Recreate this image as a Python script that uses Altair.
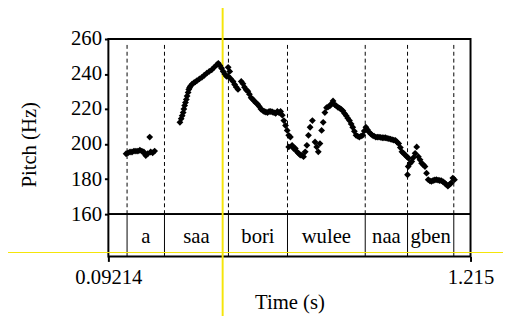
import altair as alt
import pandas as pd

# ---- data ----
times = [
    0.1471, 0.1532, 0.1593, 0.1654, 0.1715, 0.1776, 0.1837, 0.1898, 0.1959, 0.2020,
    0.2050, 0.2081, 0.2142, 0.2203, 0.2233, 0.2294, 0.2355,
    0.3140, 0.3179, 0.3210, 0.3240, 0.3262, 0.3286, 0.3311, 0.3338, 0.3362, 0.3393,
    0.3414, 0.3439, 0.3463, 0.3515, 0.3567, 0.3616, 0.3668, 0.3744, 0.3820, 0.3896,
    0.3973, 0.4049, 0.4125, 0.4201, 0.4278, 0.4330, 0.4378, 0.4430, 0.4482, 0.4531,
    0.4583, 0.4635, 0.4684, 0.4635, 0.4705, 0.4787, 0.4836, 0.4888, 0.4940, 0.5041,
    0.5092, 0.5141, 0.5193, 0.5245, 0.5294, 0.5346, 0.5398, 0.5446, 0.5498, 0.5550,
    0.5599, 0.5651, 0.5703, 0.5752, 0.5803, 0.5855, 0.5904, 0.5956, 0.6008, 0.6057,
    0.6108, 0.6160, 0.6209, 0.6261, 0.6313, 0.6362, 0.6414, 0.6466, 0.6514, 0.6514,
    0.6566, 0.6618, 0.6667, 0.6719, 0.6771, 0.6819, 0.6871, 0.6923, 0.6972, 0.7024,
    0.7076, 0.7125, 0.7176, 0.7247, 0.7329, 0.7381, 0.7430, 0.7481, 0.7533, 0.7582,
    0.7634, 0.7686, 0.7735, 0.7787, 0.7838, 0.7887, 0.7939, 0.7991, 0.8040, 0.8092,
    0.8144, 0.8192, 0.8244, 0.8296, 0.8345, 0.8397, 0.8449, 0.8498, 0.8549, 0.8601,
    0.8650, 0.8702, 0.8754, 0.8803, 0.8855, 0.8906, 0.8955, 0.9007, 0.9059, 0.9108,
    0.9160, 0.9212, 0.9260, 0.9312, 0.9364, 0.9413, 0.9465, 0.9517, 0.9565, 0.9617,
    0.9669, 0.9718, 0.9770, 0.9822, 0.9871, 0.9922, 0.9974, 1.0023, 1.0075, 1.0127,
    1.0176, 1.0197, 1.0218, 1.0228, 1.0279, 1.0328, 1.0380, 1.0432, 1.0481, 1.0533,
    1.0585, 1.0633, 1.0685, 1.0737, 1.0786, 1.0838, 1.0890, 1.0938, 1.0990, 1.1042,
    1.1091, 1.1143, 1.1195, 1.1244, 1.1296, 1.1347, 1.1396, 1.1448, 1.1500, 1.1549,
    1.1601, 1.1652,
]
pitch_hz = [
    194.5, 195.0, 195.5, 195.5, 196.0, 196.0, 196.0, 196.5, 196.0, 195.5,
    194.5, 193.5, 194.5, 204.0, 195.5, 195.0, 196.0,
    212.4, 214.5, 216.2, 218.0, 220.0, 222.0, 223.7, 225.5, 227.4, 229.5,
    231.2, 232.2, 233.0, 234.2, 234.9, 235.5, 236.2, 237.2, 238.1, 239.3,
    240.5, 241.5, 242.4, 243.8, 245.2, 246.1, 244.8, 243.3, 241.5, 240.0,
    238.7, 243.8, 241.5, 238.7, 237.5, 235.8, 234.0, 232.5, 231.2, 235.8,
    234.5, 232.5, 231.0, 230.2, 228.5, 226.5, 225.5, 224.6, 223.5, 222.8,
    221.5, 220.0, 219.2, 218.6, 218.3, 218.0, 218.6, 218.6, 218.3, 218.0,
    217.5, 218.6, 218.0, 218.6, 216.5, 213.4, 210.6, 207.8, 205.0, 198.4,
    204.0, 199.3, 197.5, 197.5, 195.6, 194.7, 193.7, 193.7, 192.8, 195.6,
    199.3, 205.0, 209.6, 213.4, 201.2, 198.4, 195.6, 200.3, 207.8, 212.4,
    218.0, 220.8, 221.2, 221.8, 223.0, 224.6, 222.5, 221.8, 221.0, 220.5,
    219.8, 219.0, 217.5, 216.2, 214.8, 213.4, 211.5, 209.6, 207.3, 205.0,
    204.5, 204.0, 204.5, 205.0, 207.5, 209.6, 208.2, 206.8, 205.8, 205.0,
    204.5, 204.0, 204.0, 204.0, 203.8, 203.6, 203.6, 203.6, 203.3, 203.1,
    202.8, 202.5, 202.3, 202.1, 201.2, 200.3, 198.0, 195.6, 194.7, 193.7,
    192.8, 182.5, 187.2, 191.9, 189.0, 190.0, 192.3, 194.7, 198.4, 192.8,
    191.0, 189.1, 188.2, 187.2, 183.4, 179.7, 179.0, 178.7, 179.2, 179.5,
    179.7, 179.4, 179.2, 179.1, 178.5, 177.8, 177.0, 176.0, 177.0, 177.8,
    180.6, 179.7,
]
boundaries = [0.1501, 0.2661, 0.4644, 0.6475, 0.8885, 1.0197, 1.1631]
words = ["a", "saa", "bori", "wulee", "naa", "gben"]
x_ticks = [0.09214, 1.215]
y_ticks = [160, 180, 200, 220, 240, 260]
cursor_time = 0.4461
cursor_hz = 138.1

T_MIN, T_MAX = 0.09214, 1.215
HZ_MIN, HZ_MAX = 160, 260
TIER_BOTTOM = 135.84      # scale extends below 160 Hz to host the text tier
DASH_TOP = 256.6
WORD_Y = 143.7

FONT = "Liberation Serif"

pitch_df = pd.DataFrame({"t": times, "hz": pitch_hz})
bound_df = pd.DataFrame({"t": boundaries})
word_df = pd.DataFrame({
    "t": [(boundaries[i] + boundaries[i + 1]) / 2 for i in range(len(words))],
    "w": words,
})

xscale = alt.Scale(domain=[T_MIN, T_MAX], nice=False, zero=False)
yscale = alt.Scale(domain=[TIER_BOTTOM, HZ_MAX], nice=False, zero=False)
xaxis = alt.Axis(
    values=x_ticks, format=".5~g", title="Time (s)", grid=False, domain=False,
    tickSize=5, tickWidth=2, tickColor="black", labelPadding=5, labelFlush=False,
    labelOverlap=False, labelFontSize=21, labelFont=FONT, labelColor="black",
    titleFontSize=21, titleFont=FONT, titleFontWeight="normal", titleColor="black",
    titleY=53, titleBaseline="alphabetic",
)
yaxis = alt.Axis(
    values=y_ticks, title="Pitch (Hz)", grid=False, domain=False,
    tickSize=4, tickWidth=2, tickColor="black", labelPadding=3,
    labelOverlap=False, labelFontSize=21, labelFont=FONT, labelColor="black",
    titleFontSize=21, titleFont=FONT, titleFontWeight="normal", titleColor="black",
    titleX=-80, titleY=107, titleAngle=-90, titleAlign="center", titleBaseline="middle",
)


def X(field=None, datum=None):
    if field is not None:
        return alt.X(field, type="quantitative", scale=xscale, axis=xaxis)
    return alt.X(datum=datum, type="quantitative", scale=xscale, axis=xaxis)


def Y(field=None, datum=None):
    if field is not None:
        return alt.Y(field, type="quantitative", scale=yscale, axis=yaxis)
    return alt.Y(datum=datum, type="quantitative", scale=yscale, axis=yaxis)


dashed = alt.Chart(bound_df).mark_rule(
    color="black", strokeWidth=1, strokeDash=[4, 3]
).encode(x=X("t"), y=Y(datum=HZ_MIN), y2=alt.Y2(datum=DASH_TOP))

tier_lines = alt.Chart(bound_df).mark_rule(color="black", strokeWidth=1).encode(
    x=X("t"), y=Y(datum=TIER_BOTTOM), y2=alt.Y2(datum=HZ_MIN)
)

tier_top = alt.Chart(bound_df).mark_rule(color="black", strokeWidth=1).encode(
    y=Y(datum=HZ_MIN)
)

word_text = alt.Chart(word_df).mark_text(
    font=FONT, fontSize=21, color="black", baseline="alphabetic", align="center"
).encode(x=X("t"), y=Y(datum=WORD_Y), text="w:N")

yellow_v = alt.Chart(bound_df).mark_rule(color="#f5e50a", strokeWidth=1.2).encode(
    x=X(datum=cursor_time), y=alt.value(-40), y2=alt.value(300)
)
yellow_h = alt.Chart(bound_df).mark_rule(color="#f5e50a", strokeWidth=1.2).encode(
    y=Y(datum=cursor_hz), x=alt.value(-110), x2=alt.value(420)
)

points = alt.Chart(pitch_df).mark_point(
    shape="diamond", filled=True, color="black", size=48, opacity=1
).encode(x=X("t"), y=Y("hz"))

chart = alt.layer(
    dashed, tier_lines, tier_top, word_text, yellow_v, yellow_h, points
).properties(
    width=368, height=221,
    autosize=alt.AutoSizeParams(type="none"),
    padding={"left": 102, "top": 29, "right": 33, "bottom": 58},
    background="white",
).configure_view(
    stroke="black", strokeWidth=2
)

chart.save("out.html", embed_options={"renderer": "svg", "actions": False})
